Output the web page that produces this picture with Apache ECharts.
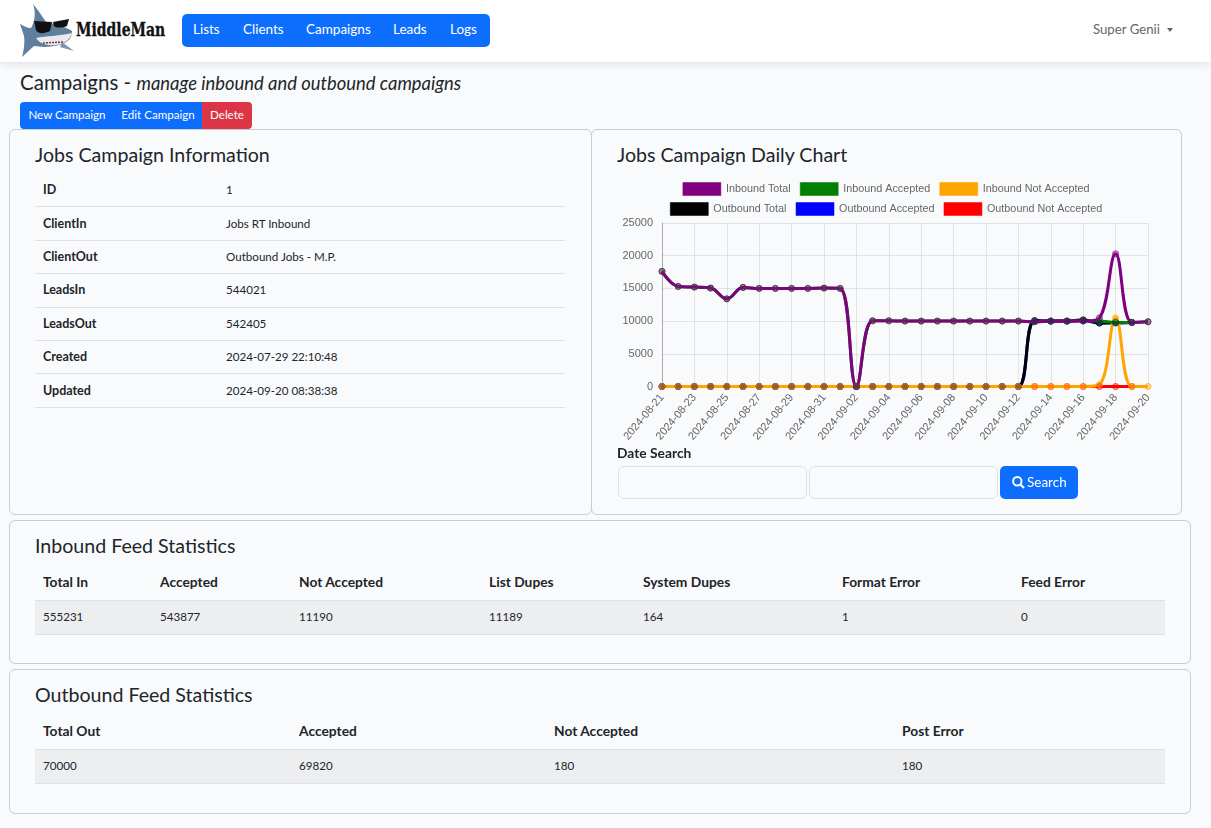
<!DOCTYPE html>
<html>
<head>
<meta charset="utf-8">
<title>Campaigns</title>
<script src="https://cdn.jsdelivr.net/npm/echarts@6/dist/echarts.min.js"></script>
<style>
  html, body { margin: 0; padding: 0; width: 1211px; height: 828px; overflow: hidden; background: #f9fafc; font-family: Lato, "Noto Sans", sans-serif; color: #212529; }
  .abs { position: absolute; }
  #navbar { left: 0; top: 0; width: 1211px; height: 62px; background: #fff; box-shadow: 0 2px 8px rgba(0,0,0,.1); }
  #brand { left: 76px; top: 19px; font: bold 18.5px "DejaVu Serif Condensed", serif; color: #111; transform: scaleX(.84); transform-origin: left; -webkit-text-stroke: .3px #111; }
  #nav { left: 182px; top: 14px; width: 308px; height: 33px; background: #0d6efd; border-radius: 5px; }
  #nav span { position: absolute; top: 7px; color: #fff; font-size: 13.5px; }
  #user { left: 1093px; top: 21px; font-size: 13.2px; color: #666; }
  #caret { left: 1167px; top: 28px; border-left: 3.5px solid transparent; border-right: 3.5px solid transparent; border-top: 4px solid #666; }
  #title { left: 20px; top: 70px; font-size: 20.5px; color: #212529; }
  #title i { font-size: 18.4px; }
  .btn { top: 102px; height: 27px; line-height: 26px; color: #fff; font-size: 11.6px; text-align: center; background: #0d6efd; }
  .card { background: #f9fafc; border: 1px solid #c9ccd0; border-radius: 6px; box-sizing: border-box; }
  .card-title { font-size: 19.6px; color: #212529; }
  table { position: absolute; border-collapse: collapse; table-layout: fixed; font-size: 11.6px; color: #212529; }
  td, th { padding: 0 0 0 8px; text-align: left; font-weight: normal; white-space: nowrap; }
  #info td { height: 31.4px; padding-bottom: 1px; border-bottom: 1px solid #dee2e6; }
  #info td:first-child { font-weight: bold; font-size: 12.5px; }
  .stats th { height: 32px; padding-bottom: 3px; font-weight: bold; font-size: 13.8px; }
  .stats td { height: 31px; padding-bottom: 2px; background: #eceef0; border-bottom: 1px solid #dee2e6; border-top: 1px solid #dee2e6; }
  #chart { left: 606px; top: 175px; width: 560px; height: 270px; }
  .input { top: 466px; width: 189px; height: 33px; border: 1px solid #dee2e6; border-radius: 6px; box-sizing: border-box; }
</style>
</head>
<body>
<div class="abs" id="navbar"></div>
<svg class="abs" style="left:0;top:0" width="80" height="62" viewBox="0 0 80 62">
  <path d="M33 4 C38 10 42 16 46 22 C56 24 66 27 72 31 C72 38 68 42 62 44 C50 48 40 47 34 46 L22 57 C24 50 25 42 24 36 L20 24 C24 26 27 28 31 28 C35 22 36 12 33 4Z" fill="#5f7f9e"/>
  <path d="M36 38 C46 36 60 36 72 33 C70 40 64 44 56 45 C48 46 40 44 36 38Z" fill="#e8eaee"/>
  <path d="M62 42 L74 51 L60 47Z" fill="#7f95ac"/>
  <path d="M34 21 L52 22 L50 31 C44 34 38 34 36 30Z M53 22 L69 19 L67 26 C62 28 56 28 54 26Z" fill="#111"/>
  <path d="M43 43 L63 42" stroke="#8a3030" stroke-width="1.5" stroke-dasharray="2 1"/>
</svg>
<div class="abs" id="brand">MiddleMan</div>
<div class="abs" id="nav">
  <span style="left:11px">Lists</span><span style="left:61px">Clients</span><span style="left:124px">Campaigns</span><span style="left:211px">Leads</span><span style="left:268px">Logs</span>
</div>
<div class="abs" id="user">Super Genii</div>
<div class="abs" id="caret"></div>
<div class="abs" id="title">Campaigns - <i>manage inbound and outbound campaigns</i></div>
<div class="abs btn" style="left:20px;width:94px;border-radius:4px 0 0 4px">New Campaign</div>
<div class="abs btn" style="left:114px;width:88px">Edit Campaign</div>
<div class="abs btn" style="left:202px;width:50px;background:#dc3545;border-radius:0 4px 4px 0">Delete</div>

<div class="abs card" style="left:9px;top:129px;width:583px;height:386px"></div>
<div class="abs card" style="left:591px;top:129px;width:591px;height:386px"></div>
<div class="abs card" style="left:9px;top:520px;width:1182px;height:144px"></div>
<div class="abs card" style="left:9px;top:669px;width:1182px;height:145px"></div>

<div class="abs card-title" style="left:35px;top:143px">Jobs Campaign Information</div>
<div class="abs card-title" style="left:617px;top:143px">Jobs Campaign Daily Chart</div>
<div class="abs card-title" style="left:35px;top:534px">Inbound Feed Statistics</div>
<div class="abs card-title" style="left:35px;top:683px">Outbound Feed Statistics</div>

<table id="info" style="left:35px;top:174px;width:530px"><colgroup><col style="width:183px"><col></colgroup><tbody id="infoBody"></tbody></table>
<table class="stats" id="inTable" style="left:35px;top:565px;width:1130px"></table>
<table class="stats" id="outTable" style="left:35px;top:714px;width:1130px"></table>

<div class="abs" id="chart"></div>
<div class="abs" style="left:617px;top:444px;font-size:13.8px;font-weight:bold">Date Search</div>
<div class="abs input" style="left:618px"></div>
<div class="abs input" style="left:809px"></div>
<div class="abs" style="left:1000px;top:466px;width:78px;height:33px;background:#0d6efd;border-radius:5px;color:#fff;font-size:13.5px;line-height:32px">
  <svg style="position:absolute;left:12px;top:10px" width="13" height="13" viewBox="0 0 13 13"><circle cx="5.3" cy="5.3" r="4.2" fill="none" stroke="#fff" stroke-width="2"/><path d="M8.5 8.5 L12 12" stroke="#fff" stroke-width="2.2"/></svg>
  <span style="position:absolute;left:27px">Search</span>
</div>

<script>
// daily chart data
const dates = ['2024-08-21','2024-08-22','2024-08-23','2024-08-24','2024-08-25','2024-08-26','2024-08-27','2024-08-28','2024-08-29','2024-08-30','2024-08-31','2024-09-01','2024-09-02','2024-09-03','2024-09-04','2024-09-05','2024-09-06','2024-09-07','2024-09-08','2024-09-09','2024-09-10','2024-09-11','2024-09-12','2024-09-13','2024-09-14','2024-09-15','2024-09-16','2024-09-17','2024-09-18','2024-09-19','2024-09-20'];
const inboundTotal = [17600,15300,15200,15050,13400,15150,15000,15000,15000,15000,15050,15000,0,10050,10050,10000,10000,10000,10000,10000,10000,10000,10000,9900,10000,10000,10000,10500,20300,9800,9900];
const inboundAccepted = [17600,15300,15200,15050,13400,15150,15000,15000,15000,15000,15050,15000,0,10050,10050,10000,10000,10000,10000,10000,10000,10000,10000,9900,10000,10000,10000,10000,9800,9800,9900];
const inboundNotAccepted = [0,0,0,0,0,0,0,0,0,0,0,0,0,0,0,0,0,0,0,0,0,0,0,0,0,0,0,300,10500,0,0];
const outboundTotal = [0,0,0,0,0,0,0,0,0,0,0,0,0,0,0,0,0,0,0,0,0,0,0,10100,10000,10000,10200,9700,9800,9800,null];
const outboundAccepted = [0,0,0,0,0,0,0,0,0,0,0,0,0,0,0,0,0,0,0,0,0,0,0,10000,10000,10000,10100,9700,9700,9800,null];
const outboundNotAccepted = [0,0,0,0,0,0,0,0,0,0,0,0,0,0,0,0,0,0,0,0,0,0,0,0,0,0,0,0,0,0,null];

// tables
const infoLabels = ['ID','ClientIn','ClientOut','LeadsIn','LeadsOut','Created','Updated'];
const infoValues = ['1','Jobs RT Inbound','Outbound Jobs - M.P.','544021','542405','2024-07-29 22:10:48','2024-09-20 08:38:38'];
const inHeads = ['Total In','Accepted','Not Accepted','List Dupes','System Dupes','Format Error','Feed Error'];
const inValues = ['555231','543877','11190','11189','164','1','0'];
const inCols = [117,139,190,154,199,179,152];
const outHeads = ['Total Out','Accepted','Not Accepted','Post Error'];
const outValues = ['70000','69820','180','180'];
const outCols = [256,255,348,271];

document.getElementById('infoBody').innerHTML = infoLabels.map((l, i) => `<tr><td>${l}</td><td>${infoValues[i]}</td></tr>`).join('');

function fillStats(id, heads, vals, cols) {
  document.getElementById(id).innerHTML =
    '<colgroup>' + cols.map(c => `<col style="width:${c}px">`).join('') + '</colgroup>' +
    '<tr>' + heads.map(h => `<th>${h}</th>`).join('') + '</tr>' +
    '<tr>' + vals.map(v => `<td>${v}</td>`).join('') + '</tr>';
}
fillStats('inTable', inHeads, inValues, inCols);
fillStats('outTable', outHeads, outValues, outCols);

// bottom of the stack first, Inbound Total ends up on top
const seriesDefs = [
  ['Outbound Not Accepted', outboundNotAccepted, '255,0,0'],
  ['Outbound Accepted', outboundAccepted, '0,0,255'],
  ['Outbound Total', outboundTotal, '0,0,0'],
  ['Inbound Not Accepted', inboundNotAccepted, '255,165,0'],
  ['Inbound Accepted', inboundAccepted, '0,128,0'],
  ['Inbound Total', inboundTotal, '128,0,128'],
];
const rgbOf = name => seriesDefs.find(d => d[0] === name)[2];
const chartFont = '"Liberation Sans", Arial, sans-serif';

function legendFor(names, top) {
  return {
    left: 'center', top, orient: 'horizontal',
    icon: 'rect', itemWidth: 38, itemHeight: 13, itemGap: 9,
    textStyle: { color: '#666', fontSize: 10.8, fontFamily: chartFont },
    selectedMode: false,
    data: names.map(n => ({
      name: n,
      itemStyle: { color: `rgb(${rgbOf(n)})`, borderColor: `rgba(${rgbOf(n)},.5)`, borderWidth: 1, opacity: 1 },
    })),
  };
}

const chart = echarts.init(document.getElementById('chart'), null, { renderer: 'canvas' });
chart.setOption({
  animation: false,
  backgroundColor: 'transparent',
  legend: [
    legendFor(['Inbound Total', 'Inbound Accepted', 'Inbound Not Accepted'], 2),
    legendFor(['Outbound Total', 'Outbound Accepted', 'Outbound Not Accepted'], 22),
  ],
  grid: { left: 56, right: 18, top: 48, bottom: 58.5, containLabel: false },
  xAxis: {
    type: 'category', data: dates, boundaryGap: false,
    axisLine: { show: false },
    axisTick: { show: false },
    axisLabel: { color: '#666', fontSize: 11, fontFamily: chartFont, rotate: 50, interval: 1, margin: 9, showMaxLabel: true },
    splitLine: { show: true, interval: 1, lineStyle: { color: 'rgba(0,0,0,.09)', width: 1 } },
  },
  yAxis: {
    type: 'value', min: 0, max: 25000, interval: 5000,
    axisLine: { show: true, lineStyle: { color: 'rgba(0,0,0,.25)' } },
    axisTick: { show: false },
    axisLabel: { color: '#666', fontSize: 11, fontFamily: chartFont, margin: 9, formatter: v => String(v) },
    splitLine: { lineStyle: { color: 'rgba(0,0,0,.09)', width: 1 } },
  },
  series: seriesDefs.map(([name, values, rgb]) => ({
    name, type: 'line', data: values, smooth: 0.4, connectNulls: false,
    showSymbol: true, showAllSymbol: true, symbol: 'circle', symbolSize: 6,
    lineStyle: { color: `rgb(${rgb})`, width: 3 },
    itemStyle: { color: `rgba(${rgb},.35)`, borderColor: `rgba(${rgb},.7)`, borderWidth: 1 },
    emphasis: { disabled: true },
  })),
});
</script>
</body>
</html>
